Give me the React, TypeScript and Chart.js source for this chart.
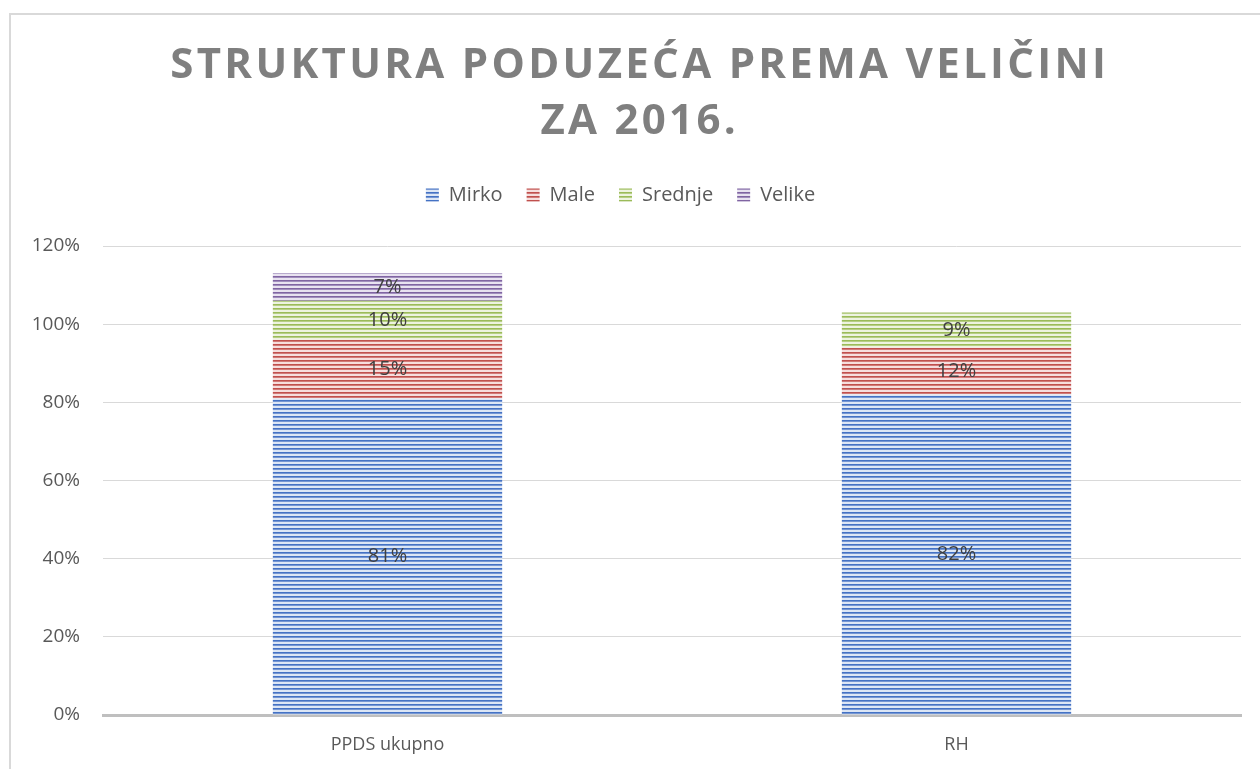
import React, { useEffect, useRef } from "react";
import { Chart, registerables } from "chart.js";

Chart.register(...registerables);

const categories = ["PPDS ukupno", "RH"];
const seriesNames = ["Mirko", "Male", "Srednje", "Velike"];
const mirko = [81, 82];
const male = [15, 12];
const srednje = [10, 9];
const velike: (number | null)[] = [7, null];
const titleLines = ["STRUKTURA PODUZEĆA PREMA VELIČINI", "ZA 2016."];
const yTicks = [0, 20, 40, 60, 80, 100, 120];

const darkColors = ["#4472c4", "#c0504d", "#9bbb59", "#8064a2"];
const lightColors = ["#dce6f5", "#f6dedd", "#edf3e0", "#e8e2f0"];
const midColors = ["#7596d3", "#d17a78", "#b6ce85", "#a18ebd"];

const FONT = '"Open Sans", sans-serif';

function makePattern(dark: string, mid: string, light: string): CanvasPattern | string {
  const c = document.createElement("canvas");
  c.width = 4;
  c.height = 4;
  const ctx = c.getContext("2d");
  if (!ctx) return dark;
  ctx.fillStyle = dark;
  ctx.fillRect(0, 0, 4, 1);
  ctx.fillStyle = mid;
  ctx.fillRect(0, 1, 4, 1);
  ctx.fillStyle = light;
  ctx.fillRect(0, 2, 4, 2);
  const p = ctx.createPattern(c, "repeat");
  return p || dark;
}

const framePlugin = {
  id: "frame",
  beforeDraw(chart: any) {
    const ctx = chart.ctx;
    ctx.save();
    ctx.fillStyle = "#ffffff";
    ctx.fillRect(0, 0, chart.width, chart.height);
    ctx.strokeStyle = "#d9d9d9";
    ctx.lineWidth = 2;
    ctx.beginPath();
    ctx.moveTo(10, chart.height);
    ctx.lineTo(10, 14);
    ctx.lineTo(chart.width, 14);
    ctx.stroke();
    ctx.restore();
  },
};

const spacedTitlePlugin = {
  id: "spacedTitle",
  afterDraw(chart: any) {
    const ctx = chart.ctx;
    ctx.save();
    ctx.font = `bold 42px ${FONT}`;
    (ctx as any).letterSpacing = "3.3px";
    ctx.fillStyle = "#7f7f7f";
    ctx.textAlign = "center";
    ctx.textBaseline = "middle";
    const cx = 638;
    titleLines.forEach((line, i) => {
      ctx.fillText(line, cx + 1.7, 66 + i * 56);
    });
    ctx.restore();
  },
};

const legendSpacePlugin = {
  id: "legendSpace",
  beforeInit(chart: any) {
    const orig = chart.legend.fit;
    chart.legend.fit = function () {
      orig.call(this);
      this.height += 31;
    };
  },
};

const dataLabelPlugin = {
  id: "dataLabels",
  afterDatasetsDraw(chart: any) {
    const ctx = chart.ctx;
    ctx.save();
    ctx.font = `20px ${FONT}`;
    ctx.fillStyle = "#404040";
    ctx.textAlign = "center";
    ctx.textBaseline = "middle";
    chart.data.datasets.forEach((ds: any, di: number) => {
      const meta = chart.getDatasetMeta(di);
      meta.data.forEach((el: any, i: number) => {
        const v = ds.data[i];
        if (v === null || v === undefined) return;
        ctx.fillText(v + "%", el.x, (el.y + el.base) / 2);
      });
    });
    ctx.restore();
  },
};

export default function App() {
  const ref = useRef<HTMLCanvasElement | null>(null);

  useEffect(() => {
    if (!ref.current) return;
    const values = [mirko, male, srednje, velike];
    const datasets = seriesNames.map((name, i) => ({
      label: name,
      data: values[i],
      backgroundColor: makePattern(darkColors[i], midColors[i], lightColors[i]),
      borderWidth: 0,
      barPercentage: 0.403,
      categoryPercentage: 1,
    }));
    const chart = new Chart(ref.current, {
      type: "bar",
      data: { labels: categories, datasets: datasets as any },
      options: {
        responsive: false,
        animation: false,
        devicePixelRatio: 1,
        layout: { padding: { top: 161, right: 19, left: 0, bottom: 0 } },
        plugins: {
          title: { display: false },
          tooltip: { enabled: false },
          legend: {
            display: true,
            position: "top",
            labels: {
              boxWidth: 13,
              boxHeight: 13,
              padding: 24,
              color: "#595959",
              font: { family: FONT, size: 20 },
            },
          },
        },
        scales: {
          x: {
            stacked: true,
            grid: { display: false, drawTicks: false },
            border: { display: true, color: "#bfbfbf", width: 3 },
            ticks: { color: "#595959", font: { family: FONT, size: 18 }, padding: 19 },
            afterFit: (scale: any) => {
              scale.height = 54;
            },
          },
          y: {
            stacked: true,
            min: 0,
            max: 120,
            afterBuildTicks: (scale: any) => {
              scale.ticks = yTicks.map((v) => ({ value: v }));
            },
            grid: { color: "#d9d9d9", lineWidth: 1, drawTicks: false },
            border: { display: false },
            ticks: {
              color: "#595959",
              font: { family: FONT, size: 19 },
              padding: 23,
              callback: (v: any) => v + "%",
            },
            afterFit: (scale: any) => {
              scale.width = 103;
            },
          },
        },
      },
      plugins: [framePlugin, spacedTitlePlugin, legendSpacePlugin, dataLabelPlugin],
    });
    return () => chart.destroy();
  }, []);

  return (
    <div style={{ position: "fixed", left: 0, top: 0, width: 1260, height: 769, background: "#fff" }}>
      <canvas ref={ref} width={1260} height={769} style={{ display: "block", width: 1260, height: 769 }} />
    </div>
  );
}
